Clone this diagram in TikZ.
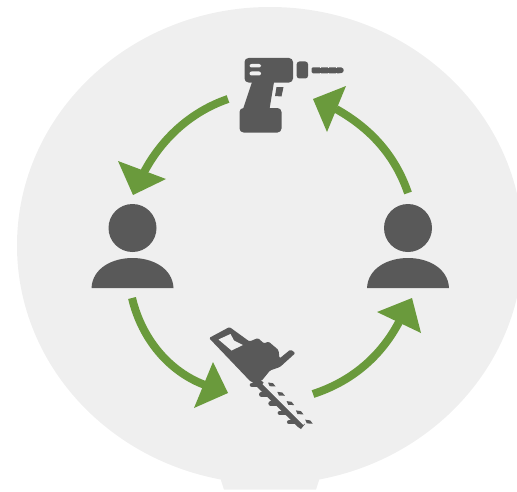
\documentclass[tikz,border=0pt]{standalone}
\definecolor{bgc}{HTML}{EFEFEF}
\definecolor{icon}{HTML}{595959}
\definecolor{grn}{HTML}{6A9A3C}
\tikzset{
  shaft/.style={draw=grn,line width=6pt},
  head/.style={fill=grn},
  ic/.style={fill=icon},
  hole/.style={fill=bgc},
  tooth/.style={draw=icon,line width=3.4pt,line cap=round},
  person/.pic={
    \fill[ic] (0,-60) circle[radius=24];
    \fill[ic] (-41,0) .. controls (-40,-20) and (-20,-30) .. (0,-30) .. controls (20,-30) and (40,-20) .. (41,0) -- cycle;
  },
}
\begin{document}
\begin{tikzpicture}[x=0.75pt,y=-0.75pt]
\useasboundingbox (0,0) rectangle (517,492);
\begin{scope}
\clip (0,0) rectangle (517,492);
\fill[bgc] (270,245.5) ellipse[x radius=253,y radius=238.5];
\fill[bgc] (219,475) -- (220.7,479.3) -- (224,489.7) -- (316,489.7) -- (319.3,479.3) -- (321,475) -- cycle;
\end{scope}
% persons
\pic at (132.5,288) {person};
\pic at (408,288) {person};
% named anchors
\coordinate (a1s) at (228,99);
\coordinate (a1e) at (142,176);
\coordinate (a2s) at (132,298);
\coordinate (a2e) at (205,385);
\coordinate (a3s) at (313,394);
\coordinate (a3e) at (399,322);
\coordinate (a4s) at (408,193);
\coordinate (a4e) at (336,109);
% arrows
\draw[shaft] (a1s) .. controls (190,112) and (160,140) .. (a1e);
\fill[head] (118,161) -- (166,179) -- (133,195) -- cycle;
\draw[shaft] (a2s) .. controls (142,340) and (170,372) .. (a2e);
\fill[head] (213,362) -- (228,393) -- (194,408) -- cycle;
\draw[shaft] (a3s) .. controls (350,382) and (380,358) .. (a3e);
\fill[head] (377,312) -- (412,298) -- (421,333) -- cycle;
\draw[shaft] (a4s) .. controls (395,155) and (370,128) .. (a4e);
\fill[head] (346,86) -- (313,99) -- (327,132) -- cycle;
% drill
\fill[ic,rounded corners=3] (244.5,58) rectangle (293,82.5);
\fill[ic] (252,82) -- (274,82) -- (269.5,109) -- (243,109) -- cycle;
\fill[ic,rounded corners=3] (239.5,108) rectangle (281.5,132.5);
\fill[ic] (276.5,87) -- (283.5,87) -- (281.5,96.5) -- (275,96) -- cycle;
\fill[ic,rounded corners=2] (296.7,61.5) rectangle (308,78.5);
\fill[ic,rounded corners=1] (311.5,67.3) -- (340,67.3) .. controls (344.5,68) and (344.5,72.6) .. (340,73.3) -- (311.5,73.3) -- cycle;
\foreach \nx in {319.5,327.5,335.5}{
  \fill[hole] (\nx,67) rectangle ++(1,1);
  \fill[hole] (\nx,72.6) rectangle ++(1,1);
}
\fill[hole,rounded corners=1.5] (249.5,64) rectangle (261,67.5);
\fill[hole,rounded corners=1.5] (249.5,71.5) rectangle (261,75.5);
% hedge trimmer
\fill[ic,rounded corners=1] (209,338) -- (229.5,327) -- (249.5,341.5) -- (258,338) -- (264,343.5) -- (268.5,341.5) -- (278.5,350) -- (279.5,358.5) -- (290.5,349.5) -- (295.5,353) -- (280,367) -- (270,370.5) -- (261.5,381) -- (251,382) -- cycle;
\fill[hole] (218.5,339.5) -- (230.5,334) -- (234,340.5) -- (243,345) -- (231.5,350.5) -- cycle;
\fill[ic] (251,381) -- (262,381) -- (305,424) -- (301,429) -- (298,427) -- cycle;
\draw[bgc,line width=1.6pt] (263.3,383.3) -- (304,424);
\foreach \i in {0,...,4}{
  \draw[tooth] ({252+9.3*\i},{385+9.3*\i}) -- ({258+9.3*\i},{385+9.3*\i});
  \fill[ic] ({268+9.3*\i},{382.5+9.3*\i}) -- ({273+9.3*\i},{383.2+9.3*\i}) -- ({275.6+9.3*\i},{386.5+9.3*\i}) -- ({269.6+9.3*\i},{386.2+9.3*\i}) -- cycle;
}
\end{tikzpicture}
\end{document}
